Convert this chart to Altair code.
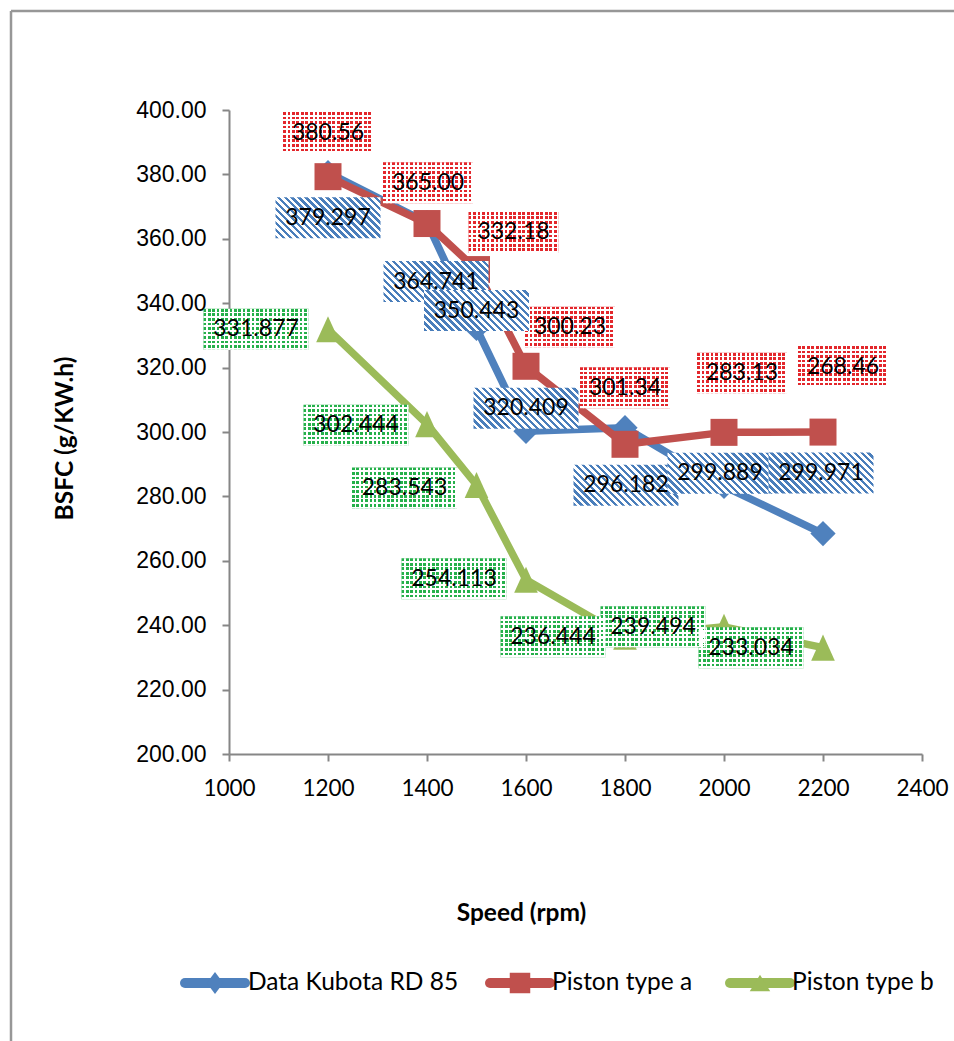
import altair as alt
import pandas as pd

# ---------------------------------------------------------------- data
speed = [1200, 1400, 1500, 1600, 1800, 2000, 2200]
kubota = [380.56, 365.00, 332.18, 300.23, 301.34, 283.13, 268.46]
piston_a = [379.297, 364.741, 350.443, 320.409, 296.182, 299.889, 299.971]
piston_b = [331.877, 302.444, 283.543, 254.113, 236.444, 239.494, 233.034]

series_names = ["Data Kubota RD 85", "Piston type a", "Piston type b"]
x_ticks = [1000, 1200, 1400, 1600, 1800, 2000, 2200, 2400]
y_ticks = [200, 220, 240, 260, 280, 300, 320, 340, 360, 380, 400]
x_title = "Speed (rpm)"
y_title = "BSFC (g/KW.h)"

# ---------------------------------------------------------------- layout / style
W, H = 693, 644
PAD = {"left": 229, "top": 110, "right": 954 - 229 - 693, "bottom": 1041 - 110 - 644}
X_DOM = [1000, 2400]
Y_DOM = [200, 400]
RPM_PER_PX = (X_DOM[1] - X_DOM[0]) / W
VAL_PER_PX = (Y_DOM[1] - Y_DOM[0]) / H

BLUE, RED, GREEN = "#4F81BD", "#C0504D", "#9BBB59"
AXIS_GREY = "#868686"
FONT = "Lato"
BOX_H = 41

# data-label placement (pixel offsets of the label centre from its point)
kubota_label_off = [(0, -40), (1, -40), (37, -96), (44, -104), (0, -40), (18, -113), (20, -167)]
piston_a_label_off = [(0, 41), (9, 58), (0, 41), (0, 42), (1, 41), (-4, 41), (-2, 41)]
piston_b_label_off = [(-72, 0), (-71, 1), (-72, 3), (-72, -1), (-72, 0), (-71, 0), (-72, 0)]

TRIANGLE = "M0,-1.1L1,1.1L-1,1.1Z"

x_axis = alt.Axis(
    values=x_ticks, format="d", grid=False, labelFlush=False, labelOverlap=False,
    domainColor=AXIS_GREY, domainWidth=2, tickColor=AXIS_GREY, tickWidth=2, tickSize=7,
    labelFont=FONT, labelFontSize=22.5, labelColor="black", labelPadding=16,
    title=x_title, titleFont=FONT, titleFontSize=24.5, titleFontWeight="bold", titleColor="black",
    titleX=292, titleY=159, titleAlign="center", titleBaseline="middle",
)
y_axis = alt.Axis(
    values=y_ticks, format=".2f", grid=False, labelFlush=False, labelOverlap=False,
    domainColor=AXIS_GREY, domainWidth=2, tickColor=AXIS_GREY, tickWidth=2, tickSize=7,
    labelFont="Liberation Sans", labelFontSize=23, labelColor="black", labelPadding=16,
    title=y_title, titleFont=FONT, titleFontSize=24.5, titleFontWeight="bold", titleColor="black",
    titleX=-164, titleY=328, titleAngle=270, titleAlign="center", titleBaseline="middle",
)
x_scale = alt.Scale(domain=X_DOM, nice=False, zero=False)
y_scale = alt.Scale(domain=Y_DOM, nice=False, zero=False)


def X(field):
    return alt.X(field, type="quantitative", scale=x_scale, axis=x_axis)


def Y(field):
    return alt.Y(field, type="quantitative", scale=y_scale, axis=y_axis)


def stripe_gradient(n, on, off, x1, y1, x2, y2, duty=0.5):
    stops = []
    for k in range(n):
        a, b, c = k / n, (k + duty) / n, (k + 1) / n
        stops += [
            alt.GradientStop(offset=round(a, 5), color=on),
            alt.GradientStop(offset=round(b, 5), color=on),
            alt.GradientStop(offset=round(b, 5), color=off),
            alt.GradientStop(offset=round(c, 5), color=off),
        ]
    return alt.LinearGradient(gradient="linear", stops=stops, x1=x1, y1=y1, x2=x2, y2=y2)


def diagonal_stripes(w, h, color, period=7.0):
    k = h / w
    a = (1 + k) / (1 + k * k)
    b = a * k
    n = max(1, round((w + h) / period))
    return stripe_gradient(n, color, "white", 0, 1, round(a, 5), round(1 - b, 5))


def label_table(values, decimals, offsets):
    rows = []
    for s, v, (dx, dy) in zip(speed, values, offsets):
        text = f"{v:.{decimals}f}"
        w = 15 * len(text)
        cx = s + dx * RPM_PER_PX
        cy = v - dy * VAL_PER_PX
        rows.append(dict(text=text, cx=cx, cy=cy,
                         x0=cx - w / 2 * RPM_PER_PX, x1=cx + w / 2 * RPM_PER_PX,
                         y0=cy - BOX_H / 2 * VAL_PER_PX, y1=cy + BOX_H / 2 * VAL_PER_PX))
    return pd.DataFrame(rows), 15 * len(rows[0]["text"])


def series_layers(values, color, shape, size):
    d = pd.DataFrame({"speed": speed, "bsfc": values})
    base = alt.Chart(d).encode(x=X("speed"), y=Y("bsfc"))
    return [
        base.mark_line(color=color, strokeWidth=7.5, strokeJoin="round", strokeCap="round"),
        base.mark_point(shape=shape, size=size, filled=True, opacity=1, color=color, strokeWidth=0),
    ]


def box_base(df):
    return alt.Chart(df).encode(x=X("x0"), x2="x1", y=Y("y0"), y2="y1")


def striped_labels(df, w, color):
    return [box_base(df).mark_rect(fill=diagonal_stripes(w, BOX_H, color), strokeWidth=0)]


def dotted_labels(df, w, color, period=4.4, dot=0.6):
    clear = "rgba(255,255,255,0)"
    rows = max(1, round(BOX_H / period))
    cols = max(1, round(w / period))
    return [
        box_base(df).mark_rect(fill=color, strokeWidth=0),
        box_base(df).mark_rect(fill=stripe_gradient(rows, clear, "white", 0, 0, 0, 1, duty=dot), strokeWidth=0),
        box_base(df).mark_rect(fill=stripe_gradient(cols, clear, "white", 0, 0, 1, 0, duty=dot), strokeWidth=0),
    ]


def label_text(df):
    return alt.Chart(df).mark_text(font=FONT, fontSize=23, color="black", baseline="middle", align="center").encode(
        x=X("cx"), y=Y("cy"), text="text:N")


# ---------------------------------------------------------------- series
layers = []
layers += series_layers(kubota, BLUE, "diamond", 640)
layers += series_layers(piston_a, RED, "square", 729)
layers += series_layers(piston_b, GREEN, TRIANGLE, 560)

# ---------------------------------------------------------------- data labels
k_df, k_w = label_table(kubota, 2, kubota_label_off)
a_df, a_w = label_table(piston_a, 3, piston_a_label_off)
b_df, b_w = label_table(piston_b, 3, piston_b_label_off)

layers += dotted_labels(k_df, k_w, "#E3262B") + [label_text(k_df)]
layers += striped_labels(a_df, a_w, "#4A7EBB") + [label_text(a_df)]
layers += dotted_labels(b_df, b_w, "#25B04A") + [label_text(b_df)]

# ---------------------------------------------------------------- legend
one = pd.DataFrame({"k": [0]})
LEG_Y = 983 - PAD["top"]
legend_items = [
    (series_names[0], BLUE, "M0,-1L0.75,0L0,1L-0.75,0Z", 480, 185, 245, 248),
    (series_names[1], RED, "square", 420, 490, 550, 552),
    (series_names[2], GREEN, "M0,-0.8L1,0.8L-1,0.8Z", 420, 730, 790, 792),
]
for name, color, shape, size, lx0, lx1, tx in legend_items:
    layers.append(alt.Chart(one).mark_rule(color=color, strokeWidth=10, strokeCap="round").encode(
        x=alt.value(lx0 - PAD["left"]), x2=alt.value(lx1 - PAD["left"]), y=alt.value(LEG_Y)))
    layers.append(alt.Chart(one).mark_point(shape=shape, size=size, filled=True, opacity=1, color=color,
                                            strokeWidth=0).encode(
        x=alt.value((lx0 + lx1) / 2 - PAD["left"]), y=alt.value(LEG_Y)))
    layers.append(alt.Chart(one).mark_text(font=FONT, fontSize=24.5, color="black", align="left",
                                           baseline="middle").encode(
        x=alt.value(tx - PAD["left"]), y=alt.value(LEG_Y), text=alt.value(name)))

# ---------------------------------------------------------------- outer frame
FRAME = "#979797"
layers.append(alt.Chart(one).mark_rule(color=FRAME, strokeWidth=2.5).encode(
    x=alt.value(11 - PAD["left"]), x2=alt.value(960 - PAD["left"]), y=alt.value(11 - PAD["top"])))
layers.append(alt.Chart(one).mark_rule(color=FRAME, strokeWidth=2.5).encode(
    x=alt.value(11 - PAD["left"]), y=alt.value(11 - PAD["top"]), y2=alt.value(1050 - PAD["top"])))

chart = alt.layer(*layers).properties(
    width=W, height=H,
    autosize=alt.AutoSizeParams(type="none"),
    padding=PAD,
    background="white",
).configure_view(stroke=None)

chart.save("out.html", embed_options={"renderer": "svg", "actions": False})
